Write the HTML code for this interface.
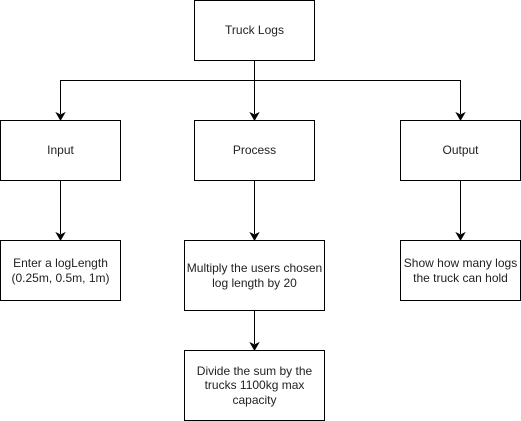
<!DOCTYPE html>
<html><head><style>html,body{margin:0;padding:0;background:#fff;width:521px;height:421px;overflow:hidden}</style></head>
<body>
<svg width="521" height="421" xmlns="http://www.w3.org/2000/svg" font-family="Liberation Sans, sans-serif" font-size="12" fill="#000">
<g fill="none" stroke="#000" stroke-width="1">
<rect x="194.5" y="0.5" width="120" height="60"/>
<rect x="0.5" y="120.5" width="120" height="60"/>
<rect x="194.5" y="120.5" width="120" height="60"/>
<rect x="400.5" y="120.5" width="120" height="60"/>
<rect x="0.5" y="240.5" width="120" height="60"/>
<rect x="184.5" y="240.5" width="140" height="70"/>
<rect x="400.5" y="240.5" width="120" height="60"/>
<rect x="184.5" y="350.5" width="140" height="70"/>
<path d="M254.5 60.5V114M60.5 114V80.5H460.5V114M60.5 180.5V234M254.5 180.5V234M460.5 180.5V234M254.5 310.5V344"/>
</g>
<g stroke="#000">
<path d="M56.5 113L60.5 120L64.5 113L60.5 115Z"/>
<path d="M250.5 113L254.5 120L258.5 113L254.5 115Z"/>
<path d="M456.5 113L460.5 120L464.5 113L460.5 115Z"/>
<path d="M56.5 233L60.5 240L64.5 233L60.5 235Z"/>
<path d="M250.5 233L254.5 240L258.5 233L254.5 235Z"/>
<path d="M456.5 233L460.5 240L464.5 233L460.5 235Z"/>
<path d="M250.5 343L254.5 350L258.5 343L254.5 345Z"/>
</g>
<g text-anchor="middle" fill="#222">
<text x="254.5" y="34">Truck Logs</text>
<text x="60.5" y="154">Input</text>
<text x="254.5" y="154">Process</text>
<text x="460.5" y="154">Output</text>
<text x="60.5" y="267">Enter a logLength</text>
<text x="60.5" y="282">(0.25m, 0.5m, 1m)</text>
<text x="254.5" y="272">Multiply the users chosen</text>
<text x="254.5" y="287">log length by 20</text>
<text x="460.5" y="267">Show how many logs</text>
<text x="460.5" y="282">the truck can hold</text>
<text x="254.5" y="375">Divide the sum by the</text>
<text x="254.5" y="389">trucks 1100kg max</text>
<text x="254.5" y="404">capacity</text>
</g>
</svg>
</body></html>
